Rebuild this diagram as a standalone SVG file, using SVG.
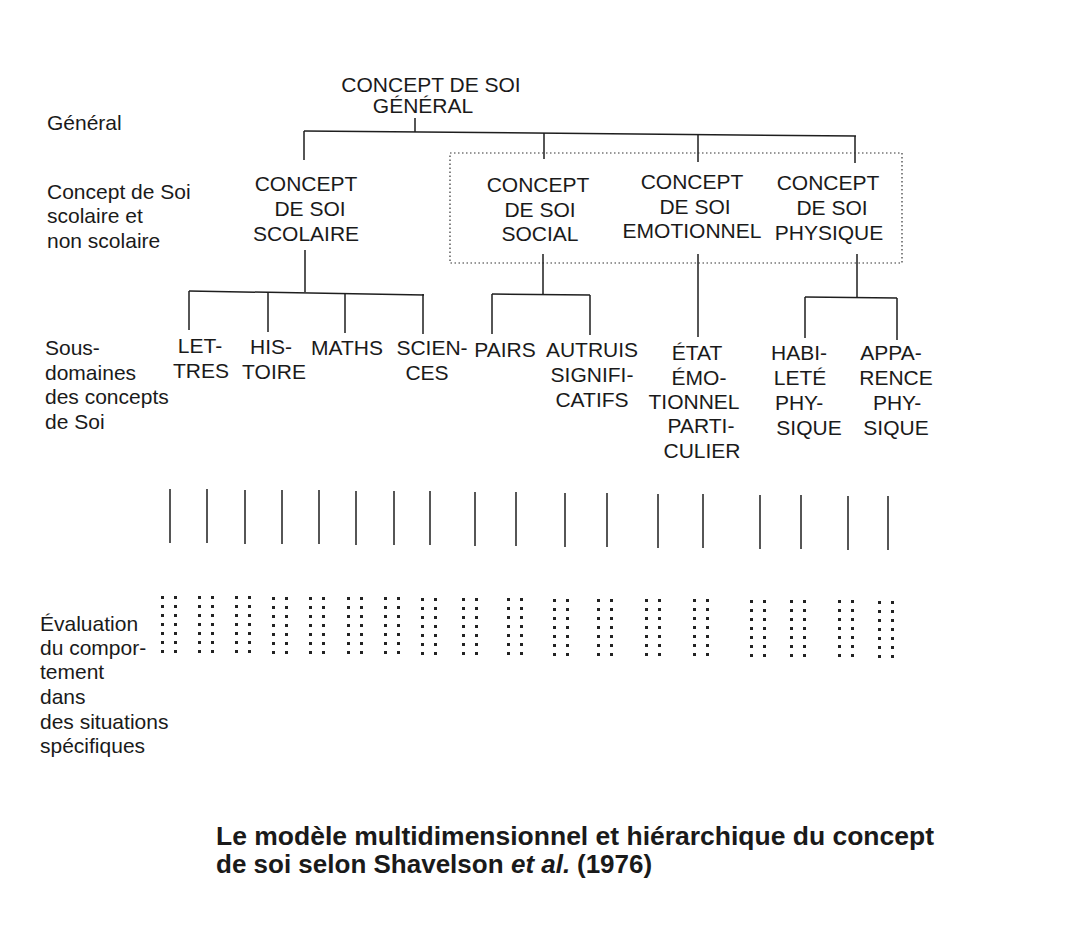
<svg xmlns="http://www.w3.org/2000/svg" xmlns:xlink="http://www.w3.org/1999/xlink" width="1078" height="925" viewBox="0 0 1078 925">
<style>
.t{font-family:"Liberation Sans",Arial,sans-serif;font-size:21px;fill:#1a1a1a;text-anchor:middle}
.l{font-family:"Liberation Sans",Arial,sans-serif;font-size:21px;fill:#1a1a1a}
.c{font-family:"Liberation Sans",Arial,sans-serif;font-size:26px;font-weight:bold;fill:#1a1a1a}
.ln{stroke:#1e1e1e;stroke-width:1.5;fill:none}
.dot{fill:#222}
</style>
<defs>
<g id="dc">
<rect class="dot" x="0" y="0" width="3" height="3"/><rect class="dot" x="13" y="0" width="3" height="3"/>
<rect class="dot" x="0" y="9" width="3" height="3"/><rect class="dot" x="13" y="9" width="3" height="3"/>
<rect class="dot" x="0" y="18" width="3" height="3"/><rect class="dot" x="13" y="18" width="3" height="3"/>
<rect class="dot" x="0" y="27" width="3" height="3"/><rect class="dot" x="13" y="27" width="3" height="3"/>
<rect class="dot" x="0" y="36" width="3" height="3"/><rect class="dot" x="13" y="36" width="3" height="3"/>
<rect class="dot" x="0" y="45" width="3" height="3"/><rect class="dot" x="13" y="45" width="3" height="3"/>
<rect class="dot" x="0" y="54" width="3" height="3"/><rect class="dot" x="13" y="54" width="3" height="3"/>
</g>
</defs>
<rect x="0" y="0" width="1078" height="925" fill="#ffffff"/>

<g id="row-labels">
<text class="l" x="47" y="130">Général</text>
<text class="l" x="47" y="199">Concept de Soi</text>
<text class="l" x="47" y="223">scolaire et</text>
<text class="l" x="47" y="248">non scolaire</text>
<text class="l" x="45" y="355">Sous-</text>
<text class="l" x="45" y="380">domaines</text>
<text class="l" x="45" y="404">des concepts</text>
<text class="l" x="45" y="429">de Soi</text>
<text class="l" x="40" y="631">Évaluation</text>
<text class="l" x="40" y="655">du compor-</text>
<text class="l" x="40" y="679">tement</text>
<text class="l" x="40" y="704">dans</text>
<text class="l" x="40" y="729">des situations</text>
<text class="l" x="40" y="753">spécifiques</text>
</g>

<g id="connectors">
<line class="ln" x1="415" y1="118" x2="415" y2="132"/>
<line class="ln" x1="304" y1="131" x2="856" y2="136"/>
<line class="ln" x1="304" y1="131" x2="304" y2="160"/>
<line class="ln" x1="544" y1="133" x2="544" y2="159"/>
<line class="ln" x1="698" y1="135" x2="698" y2="162"/>
<line class="ln" x1="855" y1="136" x2="855" y2="163"/>
<rect x="450" y="153" width="452" height="110" fill="none" stroke="#333" stroke-width="1.2" stroke-dasharray="1.5 2.5"/>
<line class="ln" x1="305" y1="250" x2="305" y2="292"/>
<line class="ln" x1="189" y1="291" x2="424" y2="295"/>
<line class="ln" x1="189" y1="291" x2="189" y2="330"/>
<line class="ln" x1="268" y1="292" x2="268" y2="332"/>
<line class="ln" x1="345" y1="293" x2="345" y2="333"/>
<line class="ln" x1="423" y1="294" x2="423" y2="334"/>
<line class="ln" x1="543" y1="254" x2="543" y2="295"/>
<line class="ln" x1="492" y1="294" x2="590" y2="295"/>
<line class="ln" x1="492" y1="294" x2="492" y2="334"/>
<line class="ln" x1="590" y1="295" x2="590" y2="335"/>
<line class="ln" x1="698" y1="254" x2="698" y2="337"/>
<line class="ln" x1="857" y1="254" x2="857" y2="297"/>
<line class="ln" x1="805" y1="297" x2="897" y2="298"/>
<line class="ln" x1="805" y1="297" x2="805" y2="338"/>
<line class="ln" x1="897" y1="298" x2="897" y2="340"/>
</g>

<g id="behaviour-lines">
<line class="ln" x1="170" y1="489" x2="170" y2="543"/>
<line class="ln" x1="207" y1="489" x2="207" y2="543"/>
<line class="ln" x1="245" y1="490" x2="245" y2="544"/>
<line class="ln" x1="282" y1="490" x2="282" y2="544"/>
<line class="ln" x1="319" y1="490" x2="319" y2="544"/>
<line class="ln" x1="356" y1="491" x2="356" y2="545"/>
<line class="ln" x1="394" y1="491" x2="394" y2="545"/>
<line class="ln" x1="430" y1="491" x2="430" y2="545"/>
<line class="ln" x1="475" y1="492" x2="475" y2="546"/>
<line class="ln" x1="516" y1="492" x2="516" y2="546"/>
<line class="ln" x1="565" y1="493" x2="565" y2="547"/>
<line class="ln" x1="607" y1="493" x2="607" y2="547"/>
<line class="ln" x1="658" y1="494" x2="658" y2="548"/>
<line class="ln" x1="703" y1="494" x2="703" y2="548"/>
<line class="ln" x1="760" y1="495" x2="760" y2="549"/>
<line class="ln" x1="801" y1="495" x2="801" y2="549"/>
<line class="ln" x1="848" y1="496" x2="848" y2="550"/>
<line class="ln" x1="888" y1="496" x2="888" y2="550"/>
</g>

<g id="behaviour-dots">
<use xlink:href="#dc" x="161" y="596"/>
<use xlink:href="#dc" x="198" y="596"/>
<use xlink:href="#dc" x="235" y="596"/>
<use xlink:href="#dc" x="272" y="597"/>
<use xlink:href="#dc" x="309" y="597"/>
<use xlink:href="#dc" x="347" y="597"/>
<use xlink:href="#dc" x="384" y="597"/>
<use xlink:href="#dc" x="421" y="598"/>
<use xlink:href="#dc" x="462" y="598"/>
<use xlink:href="#dc" x="507" y="598"/>
<use xlink:href="#dc" x="553" y="599"/>
<use xlink:href="#dc" x="597" y="599"/>
<use xlink:href="#dc" x="645" y="599"/>
<use xlink:href="#dc" x="693" y="599"/>
<use xlink:href="#dc" x="750" y="600"/>
<use xlink:href="#dc" x="790" y="600"/>
<use xlink:href="#dc" x="838" y="600"/>
<use xlink:href="#dc" x="878" y="601"/>
</g>

<g id="general">
<text class="t" x="431" y="92">CONCEPT DE SOI</text>
<text class="t" x="423" y="113">GÉNÉRAL</text>
</g>
<g id="scolaire">
<text class="t" x="306" y="191">CONCEPT</text>
<text class="t" x="310" y="216">DE SOI</text>
<text class="t" x="306" y="241">SCOLAIRE</text>
</g>
<g id="social">
<text class="t" x="538" y="192">CONCEPT</text>
<text class="t" x="540" y="217">DE SOI</text>
<text class="t" x="540" y="241">SOCIAL</text>
</g>
<g id="emotionnel">
<text class="t" x="692" y="189">CONCEPT</text>
<text class="t" x="695" y="214">DE SOI</text>
<text class="t" x="692" y="238">EMOTIONNEL</text>
</g>
<g id="physique">
<text class="t" x="828" y="190">CONCEPT</text>
<text class="t" x="832" y="215">DE SOI</text>
<text class="t" x="829" y="240">PHYSIQUE</text>
</g>
<g id="lettres">
<text class="t" x="200" y="353">LET-</text>
<text class="t" x="201" y="378">TRES</text>
</g>
<g id="histoire">
<text class="t" x="271" y="354">HIS-</text>
<text class="t" x="274" y="379">TOIRE</text>
</g>
<g id="maths">
<text class="t" x="347" y="355">MATHS</text>
</g>
<g id="sciences">
<text class="t" x="432" y="355">SCIEN-</text>
<text class="t" x="427" y="380">CES</text>
</g>
<g id="pairs">
<text class="t" x="505" y="357">PAIRS</text>
</g>
<g id="autruis">
<text class="t" x="592" y="357">AUTRUIS</text>
<text class="t" x="592" y="382">SIGNIFI-</text>
<text class="t" x="592" y="407">CATIFS</text>
</g>
<g id="etat">
<text class="t" x="697" y="360">ÉTAT</text>
<text class="t" x="699" y="385">ÉMO-</text>
<text class="t" x="694" y="409">TIONNEL</text>
<text class="t" x="701" y="433">PARTI-</text>
<text class="t" x="702" y="458">CULIER</text>
</g>
<g id="habilete">
<text class="t" x="799" y="360">HABI-</text>
<text class="t" x="800" y="385">LETÉ</text>
<text class="t" x="799" y="410">PHY-</text>
<text class="t" x="809" y="435">SIQUE</text>
</g>
<g id="apparence">
<text class="t" x="891" y="360">APPA-</text>
<text class="t" x="896" y="385">RENCE</text>
<text class="t" x="897" y="410">PHY-</text>
<text class="t" x="896" y="435">SIQUE</text>
</g>

<g id="caption">
<text class="c" x="216" y="845" textLength="718" lengthAdjust="spacingAndGlyphs">Le modèle multidimensionnel et hiérarchique du concept</text>
<text class="c" x="216" y="873">de soi selon Shavelson</text>
<text class="c" x="511" y="873" font-style="italic">et al.</text>
<text class="c" x="577" y="873">(1976)</text>
</g>
</svg>
